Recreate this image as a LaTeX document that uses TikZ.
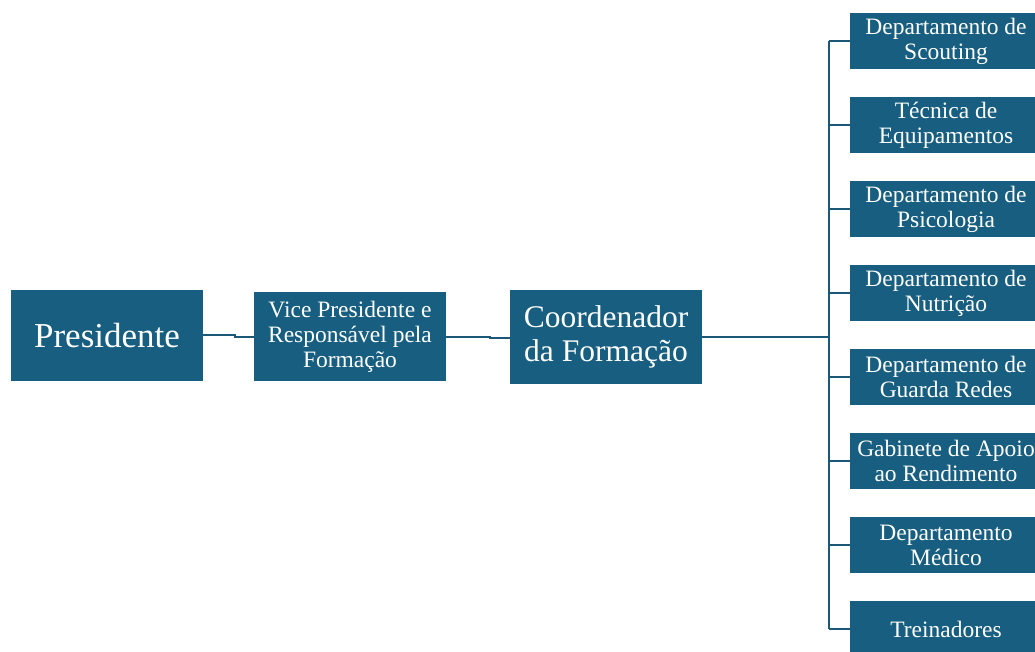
\documentclass[tikz,border=0pt]{standalone}
\usepackage{fontspec}
\setmainfont{Liberation Serif}
\definecolor{boxblue}{HTML}{175E80}
\definecolor{linkblue}{HTML}{1B5877}
\begin{document}
\begin{tikzpicture}[x=1pt,y=-1pt,
  box/.style={fill=boxblue,draw=none,text=white,align=center,inner sep=0pt,
    minimum width=192pt,anchor=center},
  small/.style={box,minimum height=56pt,font=\rmfamily\fontsize{23.5}{25}\selectfont},
  link/.style={draw=linkblue,line width=2.4pt}]
\useasboundingbox (0,0) rectangle (1035,651);
\clip (0,0) rectangle (1035,651);
\node[box,minimum height=91pt,font=\rmfamily\fontsize{35}{40}\selectfont] (pres) at (107,335.5) {Presidente};
\node[box,minimum height=89pt,font=\rmfamily\fontsize{23.5}{25}\selectfont] (vp) at (350,336.5) {Vice Presidente e\\Responsável pela\\Formação};
\node[box,minimum height=94pt,font=\rmfamily\fontsize{31.5}{34}\selectfont] (coord) at (606,337) {Coordenador\\da Formação};
\node[small] (d1) at (946,41) {Departamento de\\Scouting};
\node[small] (d2) at (946,125) {Técnica de\\Equipamentos};
\node[small] (d3) at (946,209) {Departamento de\\Psicologia};
\node[small] (d4) at (946,293) {Departamento de\\Nutrição};
\node[small] (d5) at (946,377) {Departamento de\\Guarda Redes};
\node[small] (d6) at (946,461) {Gabinete de Apoio\\ao Rendimento};
\node[small] (d7) at (946,545) {Departamento\\Médico};
\node[small] (d8) at (946,629) {Treinadores};
\coordinate (spine) at (829,337);
\draw[link] (pres.east |- 0,335) -- (235,335) -- (235,337) -- (vp.west |- 0,337);
\draw[link] (vp.east |- 0,337) -- (490,337) -- (490,338) -- (coord.west |- 0,338);
\draw[link] (coord.east |- spine) -- (spine);
\foreach \n in {d1,d2,d3,d4,d5,d6,d7,d8}
  \draw[link] (spine |- \n.west) -- (\n.west);
\draw[link] (spine |- d1.west) -- (spine |- d8.west);
\end{tikzpicture}
\end{document}
